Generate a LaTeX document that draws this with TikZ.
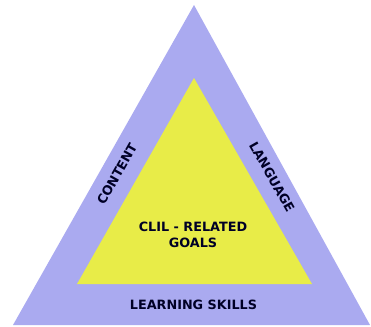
\documentclass[tikz,border=0pt]{standalone}
\usepackage{fontspec}
\setmainfont{DejaVu Sans}
\usetikzlibrary{positioning}

\definecolor{outerblue}{RGB}{170,170,240}
\definecolor{inneryellow}{RGB}{232,236,72}

\begin{document}
\begin{tikzpicture}[
    x=1pt, y=-1pt,
    label/.style={
        font=\bfseries\fontsize{12.8}{15.5}\selectfont,
        text=black!85!blue,
        align=center,
        inner sep=0pt
    }
]

\useasboundingbox (0,0) rectangle (371,326);

% outer triangle
\coordinate (outerleft) at (13,325);
\coordinate (outerright) at (370,325);
\coordinate (outertop) at (194,5);
\fill[outerblue] (outerleft) -- (outerright) -- (outertop) -- cycle;

% inner triangle
\coordinate (innerleft) at (77,284);
\coordinate (innerright) at (312,284);
\coordinate (innertop) at (194,78);
\fill[inneryellow] (innerleft) -- (innerright) -- (innertop) -- cycle;

\node[label] (goals) at (193,235) {CLIL - RELATED\\GOALS};
\node[label] (skills) at (193.5,305) {LEARNING SKILLS};
\node[label, rotate=60.5] (content) at (117,174) {CONTENT};
\node[label, rotate=-60.5] (language) at (272,177) {LANGUAGE};

\end{tikzpicture}
\end{document}
